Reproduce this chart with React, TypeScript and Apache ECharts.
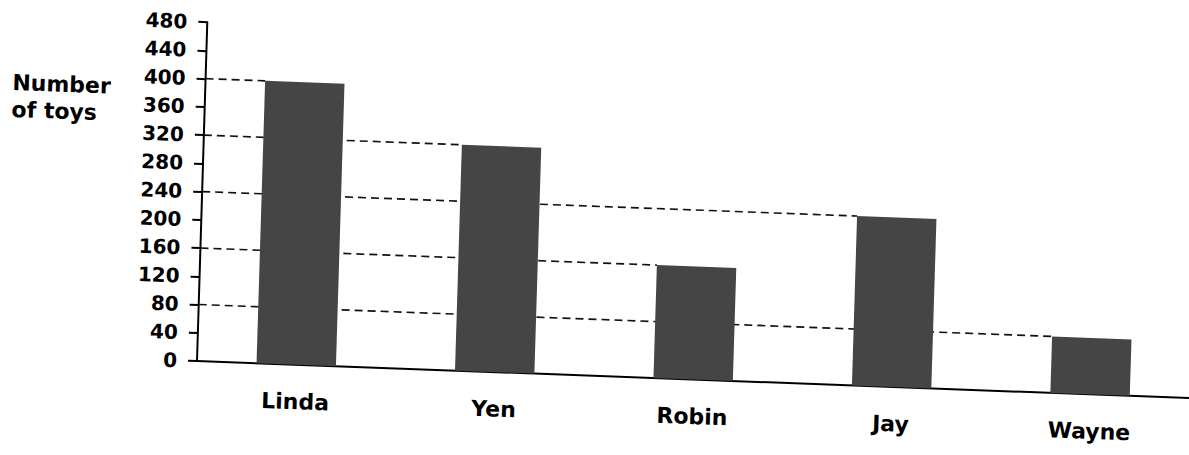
import React, { useEffect, useRef } from "react";
import * as echarts from "echarts";

const categories = ["Linda", "Yen", "Robin", "Jay", "Wayne"];
const toys = [400, 320, 160, 240, 80];
const yTicks = { min: 0, max: 480, interval: 40 };
const yTitle = "Number\nof toys";
const barFraction = 0.4;

export default function App() {
  const ref = useRef<HTMLDivElement>(null);

  useEffect(() => {
    if (!ref.current) return;
    const chart = echarts.init(ref.current, undefined, { renderer: "svg" });

    const guideSeries = toys.map((v, i) => ({
      type: "line",
      xAxisIndex: 1,
      yAxisIndex: 0,
      data: [
        [0, v],
        [i + 0.5 - barFraction / 2, v],
      ],
      symbol: "none",
      silent: true,
      z: 1,
      lineStyle: { color: "#111", width: 1.6, type: [8, 5] },
    }));

    chart.setOption({
      animation: false,
      backgroundColor: "#fff",
      title: {
        text: yTitle,
        left: 4,
        top: 76,
        padding: 0,
        textStyle: {
          fontFamily: "DejaVu Sans",
          fontWeight: "bold",
          fontSize: 22,
          lineHeight: 27,
          color: "#000",
        },
      },
      grid: { left: 197, top: 22, height: 339, width: 993 },
      xAxis: [
        {
          type: "category",
          data: categories,
          axisLine: { lineStyle: { color: "#000", width: 2 } },
          axisTick: { length: 10, lineStyle: { color: "#000", width: 2 } },
          axisLabel: {
            margin: 26,
            color: "#000",
            fontFamily: "DejaVu Sans",
            fontWeight: "bold",
            fontSize: 22,
          },
        },
        { type: "value", min: 0, max: categories.length, show: false },
      ],
      yAxis: {
        type: "value",
        min: yTicks.min,
        max: yTicks.max,
        interval: yTicks.interval,
        splitLine: { show: false },
        axisLine: { show: true, lineStyle: { color: "#000", width: 2 } },
        axisTick: { show: true, length: 9, lineStyle: { color: "#000", width: 2 } },
        axisLabel: {
          margin: 20,
          color: "#000",
          fontFamily: "DejaVu Sans",
          fontWeight: "bold",
          fontSize: 20,
        },
      },
      series: [
        ...guideSeries,
        {
          type: "bar",
          data: toys,
          barWidth: `${barFraction * 100}%`,
          z: 3,
          itemStyle: { color: "#454545" },
        },
      ],
    });

    return () => chart.dispose();
  }, []);

  return (
    <div
      style={{
        position: "fixed",
        left: 0,
        top: 0,
        width: 1189,
        height: 455,
        overflow: "hidden",
        background: "#fff",
      }}
    >
      <div
        ref={ref}
        style={{
          width: 1200,
          height: 455,
          transformOrigin: "197px 361px",
          transform: "matrix(0.9993, 0.03734, -0.03036, 0.99954, 0, 0)",
        }}
      />
    </div>
  );
}
